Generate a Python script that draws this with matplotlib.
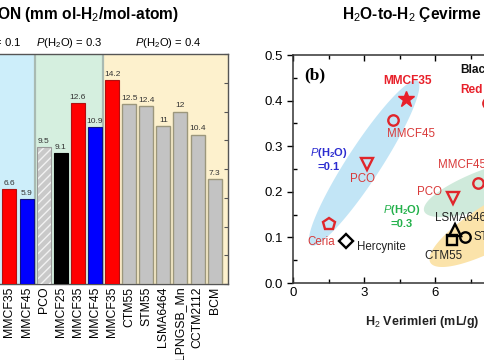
import numpy as np
import matplotlib
matplotlib.use("Agg")
import matplotlib.pyplot as plt
from matplotlib.patches import Polygon
from matplotlib.ticker import MultipleLocator

plt.rcParams['font.family'] = ['Liberation Sans', 'DejaVu Sans']
plt.rcParams['mathtext.fontset'] = 'custom'
plt.rcParams['mathtext.rm'] = 'Liberation Sans'
plt.rcParams['mathtext.it'] = 'Liberation Sans:italic'
plt.rcParams['mathtext.bf'] = 'Liberation Sans:bold'
plt.rcParams['hatch.linewidth'] = 1.0

# ---------------- data: left bar chart ----------------
bar_labels = ["MMCF35", "MMCF45", "PCO", "MMCF25", "MMCF35", "MMCF45", "MMCF35",
              "CTM55", "STM55", "LSMA6464", "LPNGSB_Mn", "CCTM2112", "BCM"]
bar_values = [6.6, 5.9, 9.5, 9.1, 12.6, 10.9, 14.2, 12.5, 12.4, 11, 12, 10.4, 7.3]
bar_kinds = ["red", "blue", "hatch", "black", "red", "blue", "red",
             "gray", "gray", "gray", "gray", "gray", "gray"]
group_labels = ["0.1", "0.3", "0.4"]
group_bounds = [1.5, 5.5]          # boundaries between pressure groups (bar index units)
group_colors = ["#cdeefa", "#d5efdf", "#fdf1cd"]
left_title = "ON (mm ol-H$_2$/mol-atom)"

# ---------------- data: right scatter chart ----------------
sc_names = ["MMCF35", "MMCF45", "PCO", "Ceria", "Hercynite", "PCO", "MMCF45",
            "LSMA6464", "CTM55", "STM55", ""]
sc_x = [4.77, 4.22, 3.12, 1.52, 2.24, 6.75, 7.81, 6.84, 6.71, 7.26, 8.23]
sc_y = [0.403, 0.357, 0.261, 0.129, 0.092, 0.186, 0.219, 0.116, 0.094, 0.101, 0.395]
sc_markers = ["*", "o", "v", "p", "D", "v", "o", "^", "s", "o", "o"]
sc_colors = ["#e8202a", "#e0262b", "#e0262b", "#e0262b", "black", "#e0262b", "#e0262b",
             "black", "black", "black", "#e0262b"]
right_title = "H$_2$O-to-H$_2$ Çevirme"
right_xlabel = "H$_2$ Verimleri (mL/g)"

RED = "#ff0000"
BLUE = "#0000ff"
LBL_RED = "#d93a3a"

fig = plt.figure(figsize=(4.85, 3.6), dpi=100)
W, H = 485.0, 360.0

# ================= LEFT PANEL =================
axL = fig.add_axes([-59 / W, 76 / H, 287 / W, 230 / H])
x0L, x1L = -4.0, 12.78
axL.set_xlim(x0L, x1L)
axL.set_ylim(0, 16)
edges = [x0L] + group_bounds + [x1L]
for i, c in enumerate(group_colors):
    axL.axvspan(edges[i], edges[i + 1], color=c, zorder=0, lw=0)
for b in group_bounds:
    axL.axvline(b, color="#a9bab2", lw=1.6, zorder=1)

xs = np.arange(len(bar_values))
bw = 0.82
for x, v, k in zip(xs, bar_values, bar_kinds):
    if k == "red":
        axL.bar(x, v, bw, color=RED, edgecolor="#b01010", lw=0.8, zorder=3)
    elif k == "blue":
        axL.bar(x, v, bw, color=BLUE, edgecolor="#101080", lw=0.8, zorder=3)
    elif k == "black":
        axL.bar(x, v, bw, color="black", edgecolor="black", lw=0.8, zorder=3)
    elif k == "hatch":
        axL.bar(x, v, bw, color="#c9c9c9", edgecolor="#f2f2f2", hatch="////", lw=0, zorder=3)
        axL.bar(x, v, bw, fill=False, edgecolor="#9a9a9a", lw=0.8, zorder=4)
    else:
        axL.bar(x, v, bw, color="#c3c3c3", edgecolor="#9c977c", lw=1.0, zorder=3)
    axL.text(x, v + 0.15, f"{v:g}", ha="center", va="bottom", fontsize=6, color="#333333", zorder=5)

axL.set_xticks(xs)
axL.set_xticklabels(bar_labels, rotation=90, fontsize=8.8)
axL.tick_params(axis="x", length=0, pad=2)
axL.set_yticks(np.arange(0, 17, 2))
axL.tick_params(axis="y", direction="in", right=True, left=True, labelleft=False,
                labelright=False, length=3, color="#555555")
for s in axL.spines.values():
    s.set_color("#555555")
    s.set_linewidth(1.0)

# group labels
centers = [(edges[i] + edges[i + 1]) / 2 for i in range(3)]
centers[2] = 9.3
for c, g in zip(centers, group_labels):
    axL.text(c, 16.75, r"$P$(H$_2$O) = " + g, ha="center", va="center", fontsize=8.1,
             clip_on=False)

fig.text(-3 / W, 1 - 15 / H, left_title, ha="left", va="center", fontsize=11.2,
         fontweight="bold")

# ================= RIGHT PANEL =================
axR = fig.add_axes([293 / W, 77 / H, 284.4 / W, 228 / H])
axR.set_xlim(0, 12)
axR.set_ylim(0, 0.5)

sx = axR.bbox.width / 12.0
sy = axR.bbox.height / 0.5


def ellipse(ax, cx, cy, a, b, ang, color):
    t = np.linspace(0, 2 * np.pi, 200)
    th = np.deg2rad(ang)
    dx = a * np.cos(t) * np.cos(th) - b * np.sin(t) * np.sin(th)
    dy = a * np.cos(t) * np.sin(th) + b * np.sin(t) * np.cos(th)
    pts = np.column_stack([cx + dx / sx, cy + dy / sy])
    ax.add_patch(Polygon(pts, closed=True, facecolor=color, edgecolor="none", zorder=1))


# ellipse: center (data), semi-axes (px), angle (deg)
ellipse(axR, 3.0, 0.263, 98, 17, 57, "#c2e5f6")
ellipse(axR, 8.31, 0.21, 70, 19, 20, "#cfeadb")
ellipse(axR, 8.9, 0.138, 85, 23, 30, "#fbe3aa")

for x, y, m, c in zip(sc_x, sc_y, sc_markers, sc_colors):
    if m == "*":
        axR.plot(x, y, m, ms=12, color=c, mec=c, zorder=4)
    else:
        ms = {"o": 7.5, "v": 9, "p": 9, "D": 7, "^": 8, "s": 7}[m]
        axR.plot(x, y, m, ms=ms, mfc="none", mec=c, mew=1.7, zorder=4)

# label offsets (px at 100 dpi) relative to each marker
lab_off = [(1, 18, "center", True), (18, -14, "center", False), (-4, -15, "center", False),
           (-8, -18, "center", False), (11, -6, "left", False), (-23, 6, "center", False),
           (-40, 18, "left", False), (-20, 12, "left", False), (-9, -16, "center", False),
           (8, 0, "left", False), (0, 0, "center", False)]
for name, x, y, c, (ox, oy, ha, bold) in zip(sc_names, sc_x, sc_y, sc_colors, lab_off):
    if not name:
        continue
    col = LBL_RED if c != "black" else "#222222"
    if bold:
        col = "#e8202a"
    axR.annotate(name, (x, y), xytext=(ox * 0.72, oy * 0.72), textcoords="offset points",
                 ha=ha, va="center", fontsize=8.6 if bold else 8.3,
                 fontweight="bold" if bold else "normal", color=col, zorder=5)

axR.text(1.52, 0.272, "$\\mathbf{\\mathit{P}}$(H$_\\mathbf{2}$O)\n=0.1", color="#2b2bd0",
         ha="center", va="center", fontsize=8, fontweight="bold", linespacing=1.25, zorder=5)
axR.text(4.6, 0.147, "$\\mathbf{\\mathit{P}}$(H$_\\mathbf{2}$O)\n=0.3", color="#22b04a",
         ha="center", va="center", fontsize=8, fontweight="bold", linespacing=1.25, zorder=5)
axR.text(0.46, 0.456, "(b)", family=["Liberation Serif", "DejaVu Serif"], fontweight="bold",
         fontsize=12.5, ha="left", va="center", zorder=5)
axR.text(7.05, 0.467, "Black", fontweight="bold", fontsize=8.6, ha="left", va="center",
         color="#111111", zorder=5)
axR.text(7.05, 0.423, "Red", fontweight="bold", fontsize=8.6, ha="left", va="center",
         color="#e8202a", zorder=5)

axR.xaxis.set_major_locator(MultipleLocator(3))
axR.xaxis.set_minor_locator(MultipleLocator(1.5))
axR.yaxis.set_major_locator(MultipleLocator(0.1))
axR.yaxis.set_minor_locator(MultipleLocator(0.05))
axR.tick_params(axis="x", which="major", direction="in", top=True, length=4, width=1,
                labelsize=9.5, pad=3)
axR.tick_params(axis="x", which="minor", direction="in", top=True, length=3, width=1)
axR.tick_params(axis="y", which="major", direction="out", length=4, width=1, labelsize=9.5)
axR.tick_params(axis="y", which="minor", direction="in", length=3, width=1)
axR.set_yticks(np.arange(0, 0.51, 0.1))
axR.set_yticklabels([f"{v:.1f}" for v in np.arange(0, 0.51, 0.1)])
for s in axR.spines.values():
    s.set_color("#333333")
    s.set_linewidth(1.1)

fig.text(342 / W, 1 - 15 / H, right_title, ha="left", va="center", fontsize=11.2,
         fontweight="bold")
fig.text(422 / W, 1 - 322 / H, right_xlabel, ha="center", va="center", fontsize=9,
         fontweight="bold", color="#222222")

fig.savefig("out.png", dpi=100)
